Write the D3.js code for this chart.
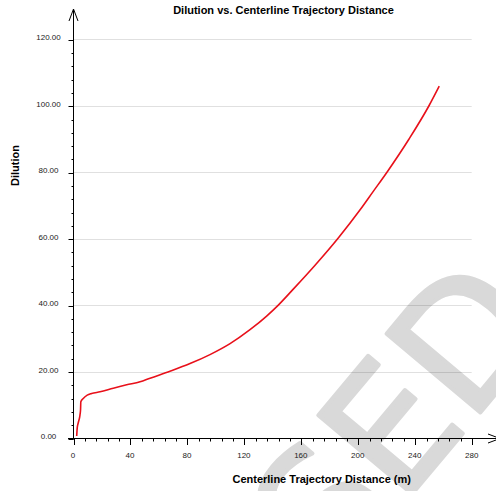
<!DOCTYPE html>
<html>
<head>
<meta charset="utf-8">
<script src="https://cdn.jsdelivr.net/npm/d3@7"></script>
<style>
  html, body { margin: 0; padding: 0; background: #fff; }
  svg { display: block; }
  text { font-family: "Liberation Sans", Arial, sans-serif; }
</style>
</head>
<body>
<svg id="chart" width="496" height="491"></svg>
<script>
// Centerline trajectory distance (m) and the dilution along it
const distance = [2.6, 3.0, 3.7, 4.9, 5.3, 5.5, 7.2, 10.0, 13.1, 19.0, 28.3, 37.7, 47.1, 54.1, 68.1,
                  82.2, 96.2, 110.3, 124.3, 136.0, 144.2, 154.7, 170, 186.3, 201.5, 211, 220.5, 236, 250, 257.2];
const dilution = [0.6, 3.2, 4.6, 6.9, 8.5, 10.9, 11.9, 12.9, 13.4, 13.9, 15.0, 16.0, 16.9, 18.0, 20.1,
                  22.4, 25.1, 28.4, 32.6, 36.7, 40.0, 44.8, 52.0, 60.2, 68.6, 74.3, 80.0, 90.0, 100.0, 105.9];

const xTicks = [0, 40, 80, 120, 160, 200, 240, 280];
const yTicks = [0, 20, 40, 60, 80, 100, 120];
const yTickLabels = ["0.00", "20.00", "40.00", "60.00", "80.00", "100.00", "120.00"];

const titleText = "Dilution vs. Centerline Trajectory Distance";
const xTitle = "Centerline Trajectory Distance (m)";
const yTitle = "Dilution";
const stampText = "LICENSED";

const svg = d3.select("#chart");
const left = 73, bottom = 438;

const x = d3.scaleLinear().domain([0, 280]).range([left, 471.7]);
const y = d3.scaleLinear().domain([0, 120]).range([bottom, 39.3]);

// background stamp
svg.append("text")
  .attr("transform", "translate(553,326) rotate(-50)")
  .attr("text-anchor", "end")
  .style("font-family", "'DejaVu Sans'")
  .style("font-size", "168px")
  .attr("fill", "#d9d9d9")
  .attr("stroke", "#d9d9d9")
  .attr("stroke-width", 4)
  .attr("stroke-linejoin", "round")
  .text(stampText);

// horizontal gridlines
svg.append("g")
  .selectAll("line")
  .data(yTicks.filter(d => d > 0))
  .join("line")
  .attr("x1", left).attr("x2", x(280))
  .attr("y1", d => Math.round(y(d)) + 0.5).attr("y2", d => Math.round(y(d)) + 0.5)
  .attr("stroke", "rgba(0,0,0,0.12)")
  .attr("stroke-width", 1);

// y axis: major + minor ticks, labels centered in the margin
const yAxisG = svg.append("g").attr("transform", `translate(${left + 0.5},0)`);
yAxisG.call(d3.axisLeft(y).tickValues(d3.range(0, 121, 4)).tickSize(2).tickFormat(""))
  .call(g => g.select(".domain").remove());
yAxisG.append("g").call(d3.axisLeft(y).tickValues(yTicks).tickSize(5).tickFormat(""))
  .call(g => g.select(".domain").remove());
yAxisG.selectAll(".tick line").attr("stroke", "#000");
yAxisG.selectAll(".tick").attr("transform", function () {
  const t = d3.select(this).attr("transform");
  const m = /translate\(([^,]+),([^)]+)\)/.exec(t);
  return `translate(${m[1]},${Math.round(+m[2]) + 0.5})`;
});
svg.append("g")
  .selectAll("text")
  .data(yTicks)
  .join("text")
  .attr("x", 48.5)
  .attr("y", d => y(d) + 1)
  .attr("text-anchor", "middle")
  .attr("font-size", 8)
  .attr("fill", "#222")
  .text((d, i) => yTickLabels[i]);

// x axis: major + minor ticks
const xAxisG = svg.append("g").attr("transform", `translate(0,${bottom + 0.5})`);
xAxisG.call(d3.axisBottom(x).tickValues(d3.range(0, 281, 8)).tickSize(3).tickFormat(""))
  .call(g => g.select(".domain").remove());
xAxisG.append("g").call(d3.axisBottom(x).tickValues(xTicks).tickSize(6.5).tickFormat(""))
  .call(g => g.select(".domain").remove());
xAxisG.selectAll(".tick line").attr("stroke", "#000");
xAxisG.selectAll(".tick").attr("transform", function () {
  const t = d3.select(this).attr("transform");
  const m = /translate\(([^,]+),([^)]+)\)/.exec(t);
  return `translate(${Math.round(+m[1]) + 0.5},0)`;
});
svg.append("g")
  .selectAll("text")
  .data(xTicks)
  .join("text")
  .attr("x", d => x(d))
  .attr("y", 457.5)
  .attr("text-anchor", "middle")
  .attr("font-size", 8)
  .attr("fill", "#222")
  .text(d => d);

// axis lines with open arrowheads
const ax = svg.append("g").attr("stroke", "#000").attr("fill", "none").attr("stroke-width", 1);
ax.append("line").attr("x1", left + 0.5).attr("x2", left + 0.5).attr("y1", bottom + 1).attr("y2", 9);
ax.append("path").attr("d", `M${left - 4},21 L${left + 0.5},9 L${left + 5},21`);
ax.append("line").attr("x1", 68).attr("x2", 500).attr("y1", bottom + 0.5).attr("y2", bottom + 0.5);
ax.append("path").attr("d", `M488,${bottom - 4} L500,${bottom + 0.5} L488,${bottom + 5}`);

// dilution curve
const line = d3.line()
  .x((d, i) => x(distance[i]))
  .y((d, i) => y(dilution[i]))
  .curve(d3.curveMonotoneX);
svg.append("path")
  .datum(distance)
  .attr("d", line)
  .attr("fill", "none")
  .attr("stroke", "#e8101a")
  .attr("stroke-width", 1.6)
  .attr("stroke-linejoin", "round");

// titles
svg.append("text")
  .attr("x", 283.5).attr("y", 14)
  .attr("text-anchor", "middle")
  .attr("font-size", 11).attr("font-weight", "bold")
  .text(titleText);
svg.append("text")
  .attr("x", 321.7).attr("y", 483)
  .attr("text-anchor", "middle")
  .attr("font-size", 11).attr("font-weight", "bold")
  .text(xTitle);
svg.append("text")
  .attr("transform", "translate(18.5,165.5) rotate(-90)")
  .attr("text-anchor", "middle")
  .attr("font-size", 11).attr("font-weight", "bold")
  .text(yTitle);
</script>
</body>
</html>
